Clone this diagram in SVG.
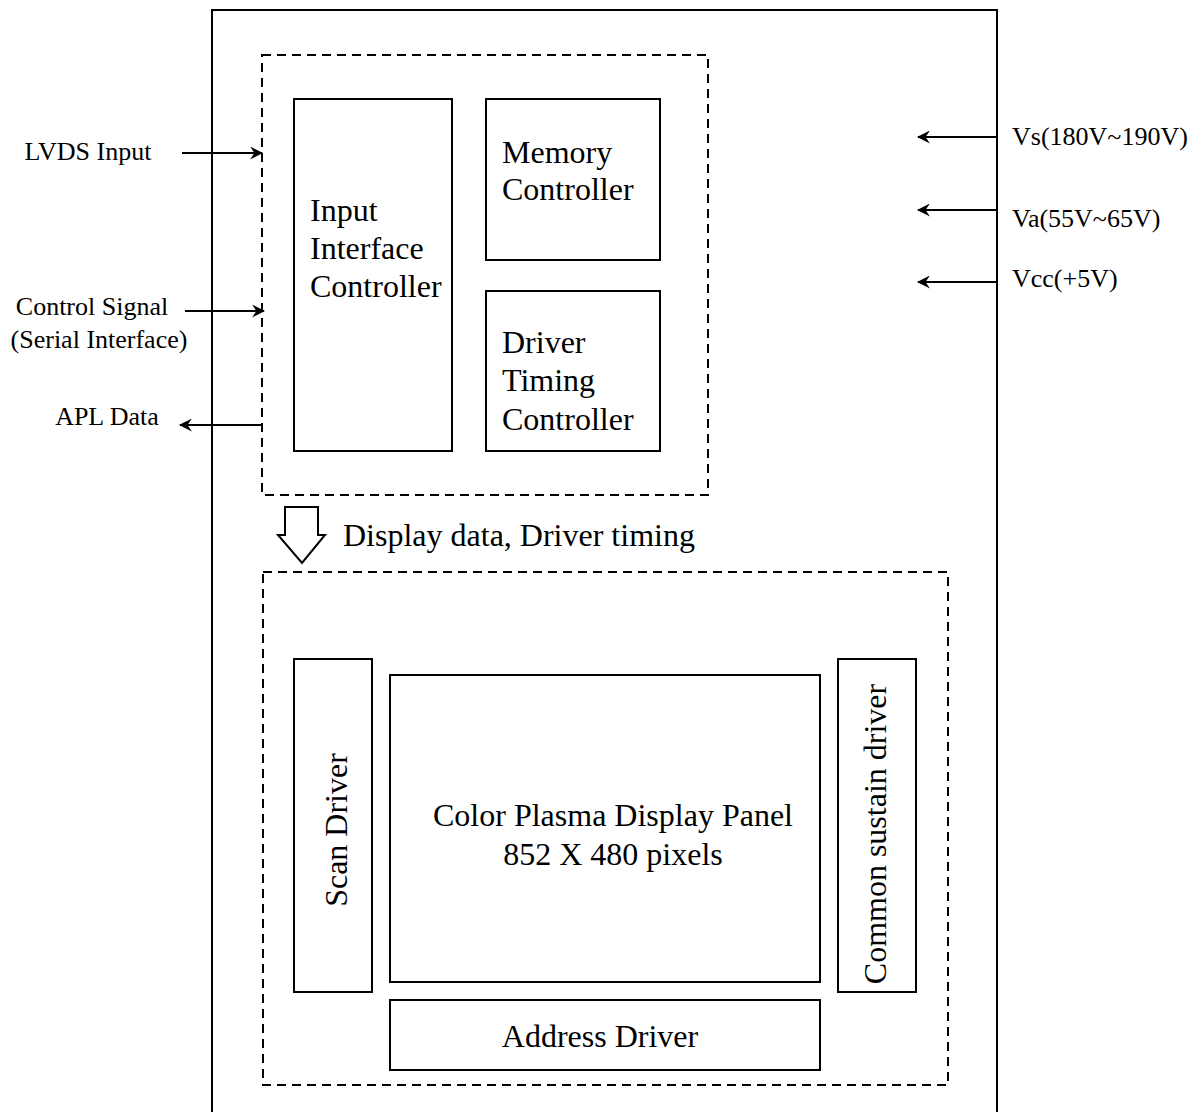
<svg xmlns="http://www.w3.org/2000/svg" width="1202" height="1112" viewBox="0 0 1202 1112">
<defs>
<style>
.box{fill:#fff;stroke:#000;stroke-width:2}
.dash{fill:none;stroke:#000;stroke-width:2;stroke-dasharray:9,6}
.ln{fill:none;stroke:#000;stroke-width:2}
.t{font-family:"Liberation Serif","Times New Roman",serif;fill:#000}
.big{font-size:32px}
.sm{font-size:26px}
</style>
<marker id="ah" viewBox="0 0 12 12" refX="11" refY="6" markerWidth="13" markerHeight="13" markerUnits="userSpaceOnUse" orient="auto">
<path d="M0,0 L12,6 L0,12 L4,6 Z" fill="#000"/>
</marker>
</defs>
<rect width="1202" height="1112" fill="#fff"/>
<g id="outer"><path class="ln" d="M212,1112 V10 H997 V1112"/></g>
<g id="controller-group"><rect class="dash" x="262" y="55" width="446" height="440"/></g>
<g id="input-interface-controller"><rect class="box" x="294" y="99" width="158" height="352"/>
<text class="t big" x="310" y="221">Input</text><text class="t big" x="310" y="259">Interface</text><text class="t big" x="310" y="297">Controller</text></g>
<g id="memory-controller"><rect class="box" x="486" y="99" width="174" height="161"/>
<text class="t big" x="502" y="163">Memory</text><text class="t big" x="502" y="200">Controller</text></g>
<g id="driver-timing-controller"><rect class="box" x="486" y="291" width="174" height="160"/>
<text class="t big" x="502" y="353">Driver</text><text class="t big" x="502" y="391">Timing</text><text class="t big" x="502" y="430">Controller</text></g>
<g id="panel-group"><rect class="dash" x="263" y="572" width="685" height="513"/></g>
<g id="scan-driver"><rect class="box" x="294" y="659" width="78" height="333"/>
<text class="t big" transform="translate(347,830) rotate(-90)" text-anchor="middle">Scan Driver</text></g>
<g id="pdp"><rect class="box" x="390" y="675" width="430" height="307"/>
<text class="t big" x="613" y="826" text-anchor="middle">Color Plasma Display Panel</text><text class="t big" x="613" y="865" text-anchor="middle">852 X 480 pixels</text></g>
<g id="common-sustain-driver"><rect class="box" x="838" y="659" width="78" height="333"/>
<text class="t big" transform="translate(886,834) rotate(-90)" text-anchor="middle">Common sustain driver</text></g>
<g id="address-driver"><rect class="box" x="390" y="1000" width="430" height="70"/>
<text class="t big" x="600" y="1047" text-anchor="middle">Address Driver</text></g>
<g id="labels">
<text class="t sm" x="88" y="160" text-anchor="middle">LVDS Input</text>
<text class="t sm" x="92" y="315" text-anchor="middle">Control Signal</text>
<text class="t sm" x="99" y="348" text-anchor="middle">(Serial Interface)</text>
<text class="t sm" x="107" y="425" text-anchor="middle">APL Data</text>
<text class="t sm" x="1012" y="145">Vs(180V~190V)</text>
<text class="t sm" x="1012" y="227">Va(55V~65V)</text>
<text class="t sm" x="1012" y="287">Vcc(+5V)</text>
<text class="t big" x="343" y="546">Display data, Driver timing</text>
</g>
<g id="connectors">
<line class="ln" x1="182" y1="153" x2="262" y2="153" marker-end="url(#ah)"/>
<line class="ln" x1="185" y1="311" x2="264" y2="311" marker-end="url(#ah)"/>
<line class="ln" x1="262" y1="425" x2="180" y2="425" marker-end="url(#ah)"/>
<line class="ln" x1="997" y1="137" x2="918" y2="137" marker-end="url(#ah)"/>
<line class="ln" x1="997" y1="210" x2="918" y2="210" marker-end="url(#ah)"/>
<line class="ln" x1="997" y1="282" x2="918" y2="282" marker-end="url(#ah)"/>
<path class="box" d="M285,507 H318 V535 H325 L302,563 L278,535 H285 Z"/>
</g>
</svg>
